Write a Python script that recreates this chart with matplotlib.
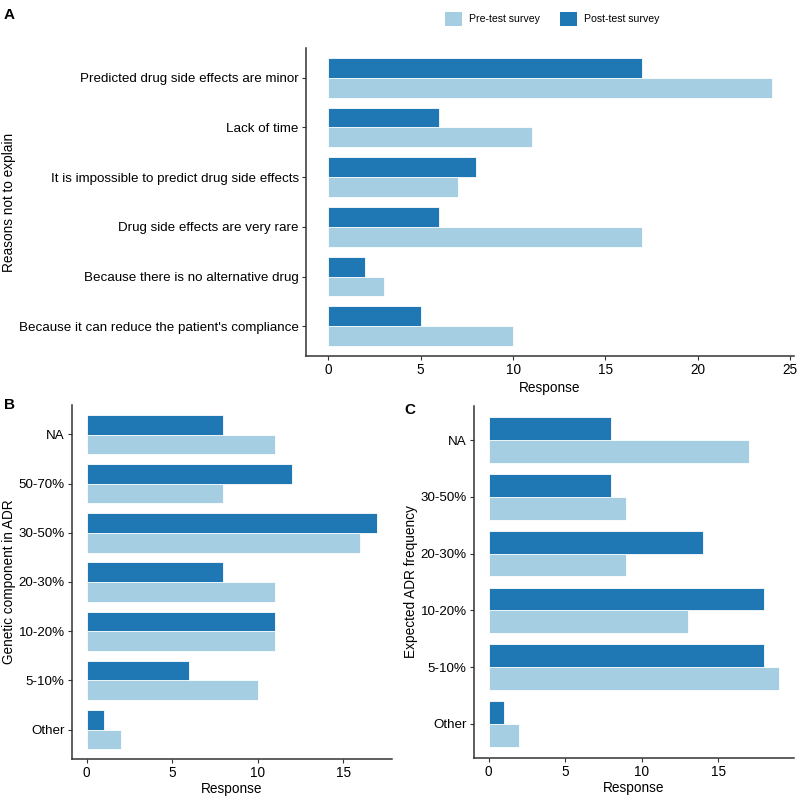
import matplotlib
matplotlib.use("Agg")
import matplotlib.pyplot as plt
from matplotlib.patches import Patch

plt.rcParams['font.family'] = ['Liberation Sans', 'DejaVu Sans']

# colours
pre_col = "#a6cee3"
post_col = "#1f78b4"

# panel A (bottom -> top)
reasons = ["Because it can reduce the patient's compliance",
           "Because there is no alternative drug",
           "Drug side effects are very rare",
           "It is impossible to predict drug side effects",
           "Lack of time",
           "Predicted drug side effects are minor"]
reasons_pre = [10, 3, 17, 7, 11, 24]
reasons_post = [5, 2, 6, 8, 6, 17]

# panel B
genetic = ["Other", "5-10%", "10-20%", "20-30%", "30-50%", "50-70%", "NA"]
genetic_pre = [2, 10, 11, 11, 16, 8, 11]
genetic_post = [1, 6, 11, 8, 17, 12, 8]

# panel C
freq = ["Other", "5-10%", "10-20%", "20-30%", "30-50%", "NA"]
freq_pre = [2, 19, 13, 9, 9, 17]
freq_post = [1, 18, 18, 14, 8, 8]

W, H = 800, 796
fig = plt.figure(figsize=(W / 100, H / 100), dpi=100)


def px_axes(left, top, right, bottom):
    ax = fig.add_axes([left / W, (H - bottom) / H, (right - left) / W, (bottom - top) / H])
    ax._px = (left, right)
    return ax


def panel(ax, cats, pre, post, ylabel, xticks, ylab_x, xpad):
    y = list(range(1, len(cats) + 1))
    ax.barh([v - 0.2 for v in y], pre, height=0.4, color=pre_col, edgecolor="white", linewidth=0.6)
    ax.barh([v + 0.2 for v in y], post, height=0.4, color=post_col, edgecolor="white", linewidth=0.6)
    ax.set_yticks(y)
    ax.set_yticklabels(cats, fontsize=9.6)
    ax.set_ylim(0.4, len(cats) + 0.6)
    mx = max(max(pre), max(post))
    ax.set_xlim(-0.05 * mx, mx * 1.05)
    ax.set_xticks(xticks)
    ax.tick_params(axis="x", labelsize=9.8, pad=2)
    ax.tick_params(axis="y", pad=2)
    for s in ["top", "right"]:
        ax.spines[s].set_visible(False)
    for s in ["left", "bottom"]:
        ax.spines[s].set_color("#333333")
        ax.spines[s].set_linewidth(1.1)
    ax.tick_params(colors="#333333", labelcolor="black", length=3.2, width=0.8)
    ax.set_xlabel("Response", fontsize=9.8, labelpad=xpad)
    ax.set_ylabel(ylabel, fontsize=9.8)
    left, right = ax._px
    ax.yaxis.set_label_coords((ylab_x - left) / (right - left), 0.5)


axA = px_axes(306, 48, 794, 356)
panel(axA, reasons, reasons_pre, reasons_post, "Reasons not to explain", [0, 5, 10, 15, 20, 25], 16, 3)

axB = px_axes(72, 405, 392, 759)
panel(axB, genetic, genetic_pre, genetic_post, "Genetic component in ADR", [0, 5, 10, 15], 16, 1)

axC = px_axes(474, 406, 794, 758)
panel(axC, freq, freq_pre, freq_post, "Expected ADR frequency", [0, 5, 10, 15], 418, 1.5)

fig.text(4 / W, 1 - 8 / H, "A", fontsize=11, fontweight="bold", va="top", ha="left")
fig.text(4 / W, 1 - 398 / H, "B", fontsize=11, fontweight="bold", va="top", ha="left")
fig.text(404 / W, 1 - 403 / H, "C", fontsize=11, fontweight="bold", va="top", ha="left")

handles = [Patch(facecolor=pre_col, label="Pre-test survey"),
           Patch(facecolor=post_col, label="Post-test survey")]
fig.legend(handles=handles, loc="center", bbox_to_anchor=(552 / W, 1 - 19 / H), ncol=2,
           frameon=False, fontsize=7.6, handlelength=1.6, handleheight=1.6, columnspacing=1.9,
           handletextpad=0.66)

fig.savefig("out.png", dpi=100)
